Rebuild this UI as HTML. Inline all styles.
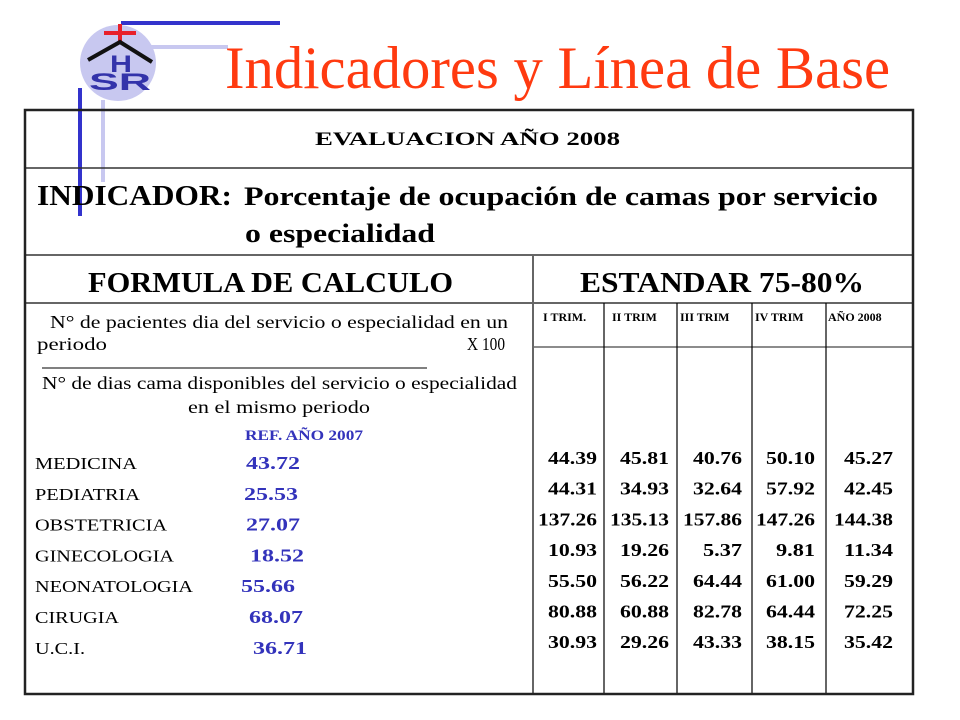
<!DOCTYPE html>
<html><head><meta charset="utf-8"><style>
html,body{margin:0;padding:0;background:#fff;}
svg{display:block;}
svg text{font-family:"Liberation Serif","Times New Roman",serif;}
</style></head><body>
<svg id="s" width="960" height="720" viewBox="0 0 960 720" xmlns="http://www.w3.org/2000/svg" font-family="Liberation Serif, serif">
<g>
<line x1="121" y1="23" x2="280" y2="23" stroke="#3333cc" stroke-width="4"/>
<line x1="150" y1="47" x2="228" y2="47" stroke="#c8c8f0" stroke-width="4"/>
<circle cx="118" cy="63" r="38" fill="#c8c8f0"/>
<line x1="103" y1="100" x2="103" y2="182" stroke="#c8c8f0" stroke-width="4"/>
<line x1="80" y1="88" x2="80" y2="216" stroke="#3333cc" stroke-width="4"/>
<line x1="104" y1="33" x2="136" y2="33" stroke="#e8202a" stroke-width="4"/>
<line x1="120" y1="24" x2="120" y2="42" stroke="#e8202a" stroke-width="4"/>
<polyline points="88,60 120,42 152,62" fill="none" stroke="#111" stroke-width="4"/>
<text x="121" y="72" text-anchor="middle" font-weight="bold" font-size="24" fill="#3333aa" style="font-family:'Liberation Sans',sans-serif" textLength="22" lengthAdjust="spacingAndGlyphs">H</text>
<text x="89" y="90" font-weight="bold" font-size="24" fill="#3333aa" style="font-family:'Liberation Sans',sans-serif" textLength="62" lengthAdjust="spacingAndGlyphs">SR</text>
</g>
<text x="225" y="88" font-size="60" fill="#ff3a10" textLength="665" lengthAdjust="spacingAndGlyphs">Indicadores y Línea de Base</text>

<g>
<line x1="25" y1="168" x2="913" y2="168" stroke="#333" stroke-width="1.5"/>
<line x1="25" y1="255" x2="913" y2="255" stroke="#666" stroke-width="2"/>
<line x1="25" y1="303" x2="913" y2="303" stroke="#666" stroke-width="2"/>
<line x1="533" y1="255" x2="533" y2="694" stroke="#666" stroke-width="2"/>
<line x1="533" y1="347" x2="913" y2="347" stroke="#666" stroke-width="1.5"/>
<line x1="604" y1="303" x2="604" y2="694" stroke="#000" stroke-width="1.2"/>
<line x1="677" y1="303" x2="677" y2="694" stroke="#000" stroke-width="1.2"/>
<line x1="752" y1="303" x2="752" y2="694" stroke="#000" stroke-width="1.2"/>
<line x1="826" y1="303" x2="826" y2="694" stroke="#000" stroke-width="1.2"/>
<rect x="25" y="110" width="888" height="584" fill="none" stroke="#222" stroke-width="2.5"/>
</g>

<text x="315" y="145" font-size="19" font-weight="bold" textLength="305" lengthAdjust="spacingAndGlyphs">EVALUACION AÑO 2008</text>
<text x="37" y="205" font-size="28" font-weight="bold" textLength="195" lengthAdjust="spacingAndGlyphs">INDICADOR:</text>
<text x="244" y="205" font-size="26" font-weight="bold" textLength="634" lengthAdjust="spacingAndGlyphs">Porcentaje de ocupación de camas por servicio</text>
<text x="245" y="242" font-size="26" font-weight="bold" textLength="190" lengthAdjust="spacingAndGlyphs">o especialidad</text>
<text x="88" y="292" font-size="29" font-weight="bold" textLength="365" lengthAdjust="spacingAndGlyphs">FORMULA DE CALCULO</text>
<text x="580" y="292" font-size="29" font-weight="bold" textLength="284" lengthAdjust="spacingAndGlyphs">ESTANDAR 75-80%</text>

<g>
<text x="50" y="328" font-size="18" textLength="458" lengthAdjust="spacingAndGlyphs">N° de pacientes dia del servicio o especialidad en  un</text>
<text x="37" y="350" font-size="18" textLength="70" lengthAdjust="spacingAndGlyphs">periodo</text>
<text x="467" y="350" font-size="18" textLength="38" lengthAdjust="spacingAndGlyphs">X 100</text>
<line x1="42" y1="368" x2="427" y2="368" stroke="#000" stroke-width="1"/>
<text x="42" y="389" font-size="18" textLength="475" lengthAdjust="spacingAndGlyphs">N° de dias cama  disponibles del servicio o especialidad</text>
<text x="188" y="413" font-size="18" textLength="182" lengthAdjust="spacingAndGlyphs">en  el mismo periodo</text>
<text x="245" y="440" font-size="15" font-weight="bold" fill="#3333bb" textLength="118" lengthAdjust="spacingAndGlyphs">REF. AÑO 2007</text>
</g>
<g id="left"></g>
<g id="right"></g>
</svg>
<script>
const services = ["MEDICINA","PEDIATRIA","OBSTETRICIA","GINECOLOGIA","NEONATOLOGIA","CIRUGIA","U.C.I."];
const ref2007 = ["43.72","25.53","27.07","18.52","55.66","68.07","36.71"];
const periods = ["I TRIM.","II TRIM","III TRIM","IV TRIM","AÑO 2008"];
const q1 = ["44.39","44.31","137.26","10.93","55.50","80.88","30.93"];
const q2 = ["45.81","34.93","135.13","19.26","56.22","60.88","29.26"];
const q3 = ["40.76","32.64","157.86","5.37","64.44","82.78","43.33"];
const q4 = ["50.10","57.92","147.26","9.81","61.00","64.44","38.15"];
const y2008 = ["45.27","42.45","144.38","11.34","59.29","72.25","35.42"];

const NS="http://www.w3.org/2000/svg";
const refX=[246,244,246,250,241,249,253];
const labelW=[102,105,132,139,158,84,50];
function rowY(i){return 469+i*30.8;}
function t(parent,x,y,str,attrs){
  const e=document.createElementNS(NS,"text");
  e.setAttribute("x",x);e.setAttribute("y",y);
  for(const k in attrs)e.setAttribute(k,attrs[k]);
  e.textContent=str;parent.appendChild(e);return e;
}
const L=document.getElementById("left");
services.forEach((s,i)=>{
  const a=t(L,35,rowY(i),s,{"font-size":"17","textLength":String(labelW[i]),"lengthAdjust":"spacingAndGlyphs"});
  
  
  const b=t(L,refX[i],rowY(i),ref2007[i],{"font-size":"18","font-weight":"bold","fill":"#3333bb","textLength":"54","lengthAdjust":"spacingAndGlyphs"});
  
  
});
const R=document.getElementById("right");
const hx=[543,612,680,755,828];
periods.forEach((p,i)=>{
  const e=t(R,hx[i],321,p,{"font-size":"12","font-weight":"bold"});
  
  
});
const cols=[q1,q2,q3,q4,y2008];
const colRight=[597,669,742,815,893];
cols.forEach((c,j)=>{
  c.forEach((v,i)=>{
    const w=v.length*10-1;
    const e=t(R,colRight[j]-w,464+i*30.7,v,{"font-size":"18","font-weight":"bold","textLength":String(w),"lengthAdjust":"spacingAndGlyphs"});
    
    
  });
});
</script>
</body></html>
